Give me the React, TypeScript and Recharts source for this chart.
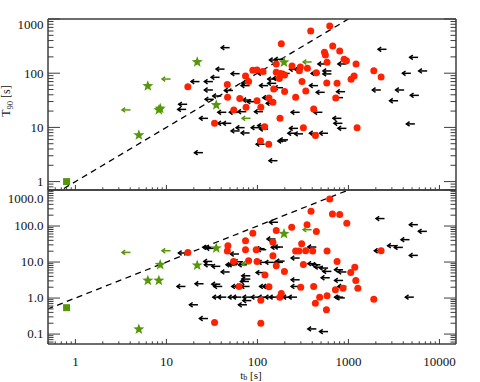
import { ScatterChart, Scatter, XAxis, YAxis, ReferenceLine } from "recharts"

// ---- data (t_b in s on x) ----
// upper panel: T90 [s]
const redTop: [number, number][] = [
  [385, 600], [623, 743], [183, 351], [672, 318], [802, 257], [545, 243], [558, 217], [582, 159],
  [896, 180], [950, 170], [1213, 148], [161, 148], [240, 136], [296, 130], [354, 123], [89, 113],
  [99, 115], [115, 107], [74, 89], [161, 104], [180, 99], [199, 93], [289, 111], [444, 102],
  [1153, 89], [1069, 77], [17.2, 56], [46.7, 62], [80, 70], [174, 80], [309, 70], [578, 66],
  [750, 65], [151, 51], [199, 46], [340, 47], [47, 36], [64, 34], [99, 31], [134, 35], [148, 29],
  [263, 36], [725, 35], [55, 21], [75, 23.5], [109, 23.5], [415, 21.8], [33.8, 11.9], [177, 14.7],
  [120, 10.3], [320, 9.9], [434, 7.1], [1245, 9.9], [108, 5.6], [133, 4.9], [1900, 111], [2285, 85],
]

const limitsTop: [number, number][] = [
  [49.5, 296], [43.5, 119], [38.4, 84], [23.1, 70], [32.4, 70], [63.7, 98], [32.4, 49], [40.1, 38],
  [53.8, 48], [16.9, 26.7], [16.5, 21.5], [33, 33], [28.6, 14.7], [51.6, 11.9], [25.2, 3.42],
  [82, 59], [83.5, 66], [125, 99], [131, 59], [161, 65], [161, 78], [191, 54], [183, 80], [95.5, 29.8],
  [85.7, 32], [142, 35.4], [155, 27.8], [61, 19], [75.5, 19.5], [115, 19.5], [63.7, 8.6], [72.3, 9.9],
  [82, 7.9], [125, 10.8], [106, 9.9], [131, 9.3], [166, 2.43], [120, 4.9], [217, 5.9], [208, 5.6],
  [279, 9.6], [268, 7.8], [317, 7.6], [463, 7.8], [597, 7.8], [837, 14.7], [859, 11.9], [950, 9.6],
  [517, 19], [291, 19], [918, 45.6], [873, 35.4], [549, 44.4], [463, 59], [191, 180], [168, 175],
  [317, 118], [279, 118], [483, 99], [650, 110], [650, 97], [573, 148], [950, 148], [226, 99],
  [45.5, 19], [45.5, 11.9], [2620, 276], [5830, 196], [7330, 110], [4850, 99.6], [2270, 49],
  [4090, 49], [3510, 31], [5940, 39], [5370, 11.6],
]

// green sample: same t_b in both panels
const starX = [6.25, 8.26, 8.55, 4.98, 21.8, 35.3, 196]
const starTopY = [58, 21, 22.3, 7.2, 161, 25.9, 159]
const starBottomY = [3.07, 3.07, 8.4, 0.136, 8.1, 24.2, 61]

const greenLimitX = [4.03, 11.1, 394, 84]
const greenLimitTopY = [21, 78, 161, 14.7]
const greenLimitBottomY = [18.5, 20.6, 79, 9.0]

const squareX = [0.8]
const squareTopY = [1.0]
const squareBottomY = [0.54]

// lower panel
const redBottom: [number, number][] = [
  [622, 567], [388, 257], [667, 217], [802, 208], [959, 119], [351, 109], [238, 92], [161, 74.5],
  [444, 70], [89, 62.8], [74, 39.2], [148, 35.2], [306, 32.4], [47.4, 28.4], [46.7, 20.2], [74, 22],
  [97, 22], [263, 20.2], [286, 20.2], [339, 20.6], [405, 20.2], [582, 20.2], [148, 15], [17.2, 18.5],
  [80, 10.9], [99, 10.4], [54.7, 10.4], [161, 7.9], [198, 5.5], [320, 8.6], [750, 10.4], [1175, 7.2],
  [1060, 5.1], [1205, 3.08], [1268, 1.88], [873, 1.88], [719, 1.69], [582, 1.15], [483, 1.06],
  [433, 0.72], [573, 0.47], [415, 2.1], [299, 2.0], [183, 1.34], [176, 1.06], [109, 0.87], [134, 2.05],
  [121, 4.4], [63, 2.1], [33.8, 0.21], [109, 0.2], [1900, 0.93], [2285, 20.6],
]

const limitsBottom: [number, number][] = [
  [168, 127], [16.8, 17.8], [31.1, 25.6], [33.8, 24], [62.7, 16.7], [158, 43.6], [125, 22], [120, 23.5],
  [191, 26.1], [176, 25.6], [291, 12.9], [444, 26.1], [31.9, 10.4], [32.4, 8.4], [39.1, 7.6],
  [56.1, 8.4], [59.5, 8.4], [69.3, 10.2], [76.7, 8.4], [49.5, 5.3], [120, 5.1], [127, 9.8], [151, 9.8],
  [191, 9.8], [199, 10.6], [444, 9.0], [492, 8.4], [526, 7.2], [597, 6.8], [650, 5.5], [873, 6.1],
  [950, 5.3], [623, 3.66], [873, 3.08], [950, 2.1], [83.5, 4.15], [83.5, 3.36], [80.7, 2.89], [82, 2.1],
  [70.5, 2.1], [64.8, 2.1], [39.1, 2.43], [41.1, 2.1], [25.6, 2.49], [16.2, 2.1], [131, 2.1], [142, 2.1],
  [291, 2.1], [291, 3.21], [40.1, 1.06], [45.5, 1.06], [59.5, 1.06], [66.5, 1.06], [85.7, 1.06],
  [106, 1.06], [127, 1.06], [151, 1.06], [168, 1.06], [204, 1.06], [236, 1.06], [272, 1.06],
  [85.7, 0.85], [76.7, 0.65], [873, 1.06], [912, 1.01], [22.2, 0.65], [28.6, 0.27], [444, 0.139],
  [597, 0.117], [2490, 161], [5790, 109], [7270, 71], [4690, 41.8], [3340, 28.4], [3960, 25.5],
  [2390, 20.6], [5790, 15.3], [5230, 1.06],
]

// T90 = t_b reference
const equalityEnds = [0.3, 1000]

// axes
const xDomain: [number, number] = [0.5, 15200]
const topYDomain: [number, number] = [0.7, 1000]
const bottomYDomain: [number, number] = [0.053, 1000]
const xMajor = [1, 10, 100, 1000, 10000]
const xLabels = ["1", "10", "100", "1000", "10000"]
const topYMajor = [1, 10, 100, 1000]
const topYLabels = ["1", "10", "100", "1000"]
const bottomYMajor = [0.1, 1, 10, 100, 1000]
const bottomYLabels = ["0.1", "1.0", "10.0", "100.0", "1000.0"]

const FONT = "'Liberation Serif', 'Times New Roman', serif"
const INK = "#3c3c3c"
const RED = "#ff2200"
const GREEN = "#55960a"

function logTicks([lo, hi]: [number, number]) {
  const out: number[] = []
  for (let e = Math.floor(Math.log10(lo)); e <= Math.ceil(Math.log10(hi)); e++) {
    for (let m = 1; m < 10; m++) {
      const v = m * Math.pow(10, e)
      if (v >= lo * 0.999 && v <= hi * 1.001) out.push(v)
    }
  }
  return out
}

const majorIndex = (majors: number[], v: number) =>
  majors.findIndex((m) => Math.abs(m - v) / m < 1e-6)

const pts = (xs: number[], ys: number[]) => xs.map((x, i) => ({ x, y: ys[i] }))
const pairs = (list: [number, number][]) => list.map(([x, y]) => ({ x, y }))

function xTick(side: "top" | "bottom", labels: string[] | null) {
  return (props: any) => {
    const { x, y, payload } = props
    const i = majorIndex(xMajor, payload.value)
    const len = i >= 0 ? 5 : 2.7
    const dir = side === "bottom" ? -1 : 1
    return (
      <g>
        <line x1={x} x2={x} y1={y} y2={y + dir * len} stroke={INK} strokeWidth={1} />
        {labels && i >= 0 && (
          <text x={x} y={y + 21.5} textAnchor="middle" fontFamily={FONT} fontSize={13} fill="#111">
            {labels[i]}
          </text>
        )}
      </g>
    )
  }
}

function yTick(side: "left" | "right", majors: number[], labels: string[] | null, topShift: number) {
  return (props: any) => {
    const { x, y, payload } = props
    const i = majorIndex(majors, payload.value)
    const len = i >= 0 ? 12 : 5.5
    const dir = side === "left" ? 1 : -1
    const shift = i === majors.length - 1 ? topShift : 0
    return (
      <g>
        <line x1={x} x2={x + dir * len} y1={y} y2={y} stroke={INK} strokeWidth={1} />
        {labels && i >= 0 && (
          <text x={x - 4.5} y={y + 4.4 + shift} textAnchor="end" fontFamily={FONT} fontSize={13} fill="#111">
            {labels[i]}
          </text>
        )}
      </g>
    )
  }
}

const Dot = (p: any) => <circle cx={p.cx} cy={p.cy} r={3.5} fill={RED} />

const Limit = (color: string) => (p: any) => {
  const { cx, cy } = p
  const tip = cx - 8.5
  return (
    <g stroke={color} strokeWidth={1.5} fill="none">
      <line x1={cx} y1={cy} x2={tip} y2={cy} />
      <path d={`M${tip + 3.2},${cy - 2.3} L${tip},${cy} L${tip + 3.2},${cy + 2.3}`} />
    </g>
  )
}

const Star = (p: any) => {
  const { cx, cy } = p
  let d = ""
  for (let i = 0; i < 10; i++) {
    const r = i % 2 === 0 ? 5.8 : 2.4
    const a = -Math.PI / 2 + (i * Math.PI) / 5
    d += (i ? "L" : "M") + (cx + r * Math.cos(a)).toFixed(2) + "," + (cy + r * Math.sin(a)).toFixed(2)
  }
  return <path d={d + "Z"} fill={GREEN} />
}

const Square = (p: any) => <rect x={p.cx - 3.5} y={p.cy - 3.5} width={7} height={7} fill={GREEN} />

const axisLine = { stroke: INK, strokeWidth: 1.5 }

function Panel(props: {
  height: number
  topH: number
  bottomH: number
  yDomain: [number, number]
  yMajor: number[]
  yLabels: string[]
  topShift: number
  xLabelsShown: boolean
  red: [number, number][]
  limits: [number, number][]
  starY: number[]
  greenLimitY: number[]
  squareY: number[]
}) {
  const xt = logTicks(xDomain)
  const yt = logTicks(props.yDomain)
  return (
    <ScatterChart width={480} height={props.height} margin={{ top: 0, right: 0, bottom: 0, left: 0 }}>
      <XAxis xAxisId="b" type="number" dataKey="x" scale="log" domain={xDomain} allowDataOverflow
        ticks={xt} interval={0} tickSize={0} tickMargin={0} tickLine={false} axisLine={axisLine}
        height={props.bottomH} tick={xTick("bottom", props.xLabelsShown ? xLabels : null)} />
      <XAxis xAxisId="t" orientation="top" type="number" scale="log" domain={xDomain} allowDataOverflow
        ticks={xt} interval={0} tickSize={0} tickMargin={0} tickLine={false} axisLine={axisLine}
        height={props.topH} tick={xTick("top", null)} />
      <YAxis yAxisId="l" type="number" dataKey="y" scale="log" domain={props.yDomain} allowDataOverflow
        ticks={yt} interval={0} tickSize={0} tickMargin={0} tickLine={false} axisLine={axisLine}
        width={48} tick={yTick("left", props.yMajor, props.yLabels, props.topShift)} />
      <YAxis yAxisId="r" orientation="right" type="number" scale="log" domain={props.yDomain} allowDataOverflow
        ticks={yt} interval={0} tickSize={0} tickMargin={0} tickLine={false} axisLine={axisLine}
        width={24} tick={yTick("right", props.yMajor, null, 0)} />
      <ReferenceLine xAxisId="b" yAxisId="l" ifOverflow="hidden"
        segment={[{ x: equalityEnds[0], y: equalityEnds[0] }, { x: equalityEnds[1], y: equalityEnds[1] }]}
        stroke="#000" strokeWidth={1.3} strokeDasharray="6 4.5" />
      <Scatter xAxisId="b" yAxisId="l" data={pairs(props.limits)} shape={Limit("#000")} isAnimationActive={false} />
      <Scatter xAxisId="b" yAxisId="l" data={pairs(props.red)} shape={Dot} isAnimationActive={false} />
      <Scatter xAxisId="b" yAxisId="l" data={pts(greenLimitX, props.greenLimitY)} shape={Limit(GREEN)} isAnimationActive={false} />
      <Scatter xAxisId="b" yAxisId="l" data={pts(starX, props.starY)} shape={Star} isAnimationActive={false} />
      <Scatter xAxisId="b" yAxisId="l" data={pts(squareX, props.squareY)} shape={Square} isAnimationActive={false} />
    </ScatterChart>
  )
}

export default function App() {
  return (
    <div style={{ position: "absolute", left: 0, top: 0, width: 480, height: 382, overflow: "hidden", background: "#fff" }}>
      <div style={{ position: "absolute", left: 0, top: 0 }}>
        <Panel height={200} topH={19} bottomH={10} yDomain={topYDomain} yMajor={topYMajor} yLabels={topYLabels}
          topShift={6} xLabelsShown={false} red={redTop} limits={limitsTop} starY={starTopY}
          greenLimitY={greenLimitTopY} squareY={squareTopY} />
      </div>
      <div style={{ position: "absolute", left: 0, top: 0 }}>
        <Panel height={382} topH={190} bottomH={38} yDomain={bottomYDomain} yMajor={bottomYMajor} yLabels={bottomYLabels}
          topShift={8.5} xLabelsShown={true} red={redBottom} limits={limitsBottom} starY={starBottomY}
          greenLimitY={greenLimitBottomY} squareY={squareBottomY} />
      </div>
      <svg width={480} height={382} style={{ position: "absolute", left: 0, top: 0, pointerEvents: "none" }}>
        <text transform="rotate(-90)" x={-101} y={10} textAnchor="middle" fontFamily={FONT} fontSize={12} fill="#111">
          T<tspan fontSize={8.5} dy={2.5}>90</tspan><tspan dy={-2.5}> [s]</tspan>
        </text>
        <text x={251} y={378.5} textAnchor="middle" fontFamily={FONT} fontSize={11} fill="#111">
          t<tspan fontSize={8} dy={1.5}>b</tspan><tspan dy={-1.5}> [s]</tspan>
        </text>
      </svg>
    </div>
  )
}
